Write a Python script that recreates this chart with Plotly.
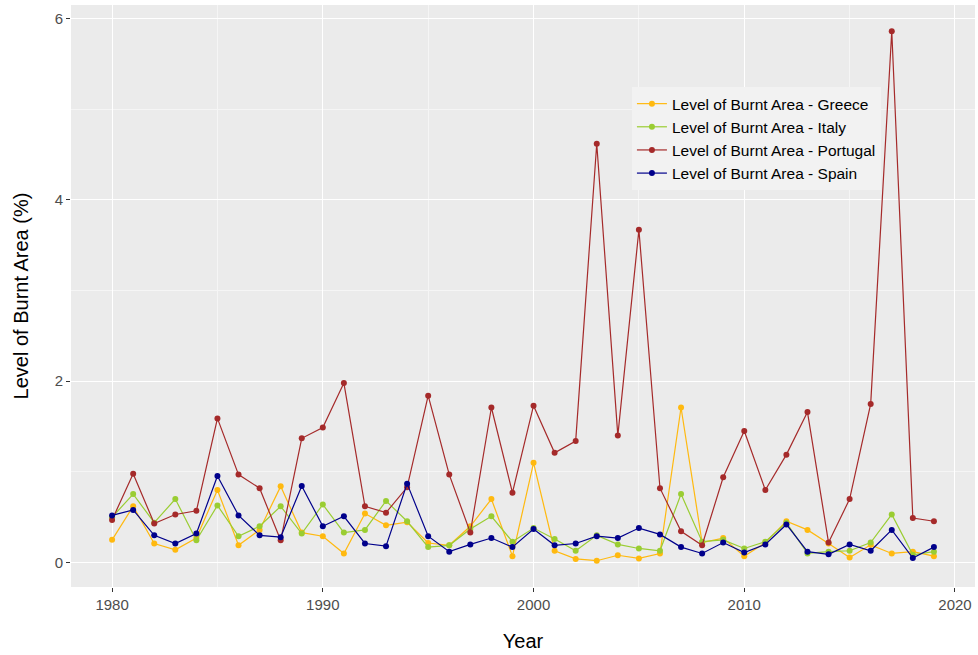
import plotly.graph_objects as go

years = list(range(1980, 2020))

greece = [0.25, 0.62, 0.21, 0.14, 0.27, 0.80, 0.19, 0.36, 0.84, 0.33,
          0.29, 0.10, 0.54, 0.41, 0.445, 0.215, 0.19, 0.40, 0.70, 0.07,
          1.10, 0.13, 0.04, 0.02, 0.08, 0.045, 0.10, 1.71, 0.22, 0.27,
          0.07, 0.22, 0.455, 0.36, 0.21, 0.055, 0.195, 0.10, 0.12, 0.07]

italy = [0.50, 0.755, 0.44, 0.70, 0.245, 0.63, 0.29, 0.40, 0.62, 0.32,
         0.64, 0.33, 0.36, 0.68, 0.455, 0.17, 0.19, 0.37, 0.51, 0.23,
         0.38, 0.26, 0.13, 0.30, 0.20, 0.155, 0.13, 0.755, 0.23, 0.25,
         0.155, 0.23, 0.44, 0.10, 0.12, 0.13, 0.22, 0.53, 0.085, 0.12]

portugal = [0.47, 0.98, 0.43, 0.53, 0.57, 1.59, 0.97, 0.82, 0.245, 1.37,
            1.49, 1.98, 0.62, 0.55, 0.83, 1.84, 0.97, 0.33, 1.71, 0.77,
            1.73, 1.21, 1.34, 4.62, 1.40, 3.67, 0.82, 0.345, 0.19, 0.94,
            1.45, 0.80, 1.19, 1.66, 0.22, 0.70, 1.75, 5.86, 0.49, 0.455]

spain = [0.52, 0.58, 0.30, 0.21, 0.32, 0.955, 0.52, 0.30, 0.28, 0.845,
         0.40, 0.51, 0.21, 0.18, 0.87, 0.29, 0.12, 0.20, 0.27, 0.17,
         0.37, 0.19, 0.21, 0.29, 0.27, 0.38, 0.31, 0.17, 0.10, 0.22,
         0.11, 0.20, 0.42, 0.12, 0.09, 0.20, 0.13, 0.36, 0.05, 0.17]

series = [
    ("Level of Burnt Area - Greece", greece, "#FFB90F"),
    ("Level of Burnt Area - Italy", italy, "#9ACD32"),
    ("Level of Burnt Area - Portugal", portugal, "#A52A2A"),
    ("Level of Burnt Area - Spain", spain, "#00008B"),
]

fig = go.Figure()
for name, vals, col in series:
    fig.add_trace(go.Scatter(
        x=years, y=vals, mode="lines+markers", name=name,
        line=dict(color=col, width=1.2),
        marker=dict(color=col, size=6),
    ))

axis_common = dict(
    showgrid=True, gridcolor="white", gridwidth=1.2,
    zeroline=False, showline=False, automargin=False,
    ticks="outside", ticklen=4, tickcolor="#333333", tickwidth=1,
    tickfont=dict(size=15, color="#4D4D4D"),
)

fig.update_layout(
    width=978, height=655,
    paper_bgcolor="white", plot_bgcolor="#EBEBEB",
    font=dict(family="Liberation Sans, Arial, sans-serif", color="black"),
    margin=dict(l=71, r=3, t=5, b=68),
    xaxis=dict(
        range=[1978.05, 2020.95], tickvals=[1980, 1990, 2000, 2010, 2020],
        title=dict(text="Year", font=dict(size=20), standoff=21),
        minor=dict(tickvals=[1985, 1995, 2005, 2015], showgrid=True,
                   gridcolor="#F5F5F5", gridwidth=0.6, ticks=""),
        **axis_common,
    ),
    yaxis=dict(
        range=[-0.27, 6.15], tickvals=[0, 2, 4, 6],
        title=dict(text="Level of Burnt Area (%)", font=dict(size=20), standoff=20),
        minor=dict(tickvals=[1, 3, 5], showgrid=True,
                   gridcolor="#F5F5F5", gridwidth=0.6, ticks=""),
        **axis_common,
    ),
    legend=dict(
        x=0.6205, y=0.859, xanchor="left", yanchor="top",
        bgcolor="#F2F2F2", font=dict(size=15.5, color="black"),
        itemwidth=30, tracegroupgap=0,
    ),
    showlegend=True,
)

fig.write_html("out.html", config={"displayModeBar": False},
               post_script="document.body.style.margin='0';")
